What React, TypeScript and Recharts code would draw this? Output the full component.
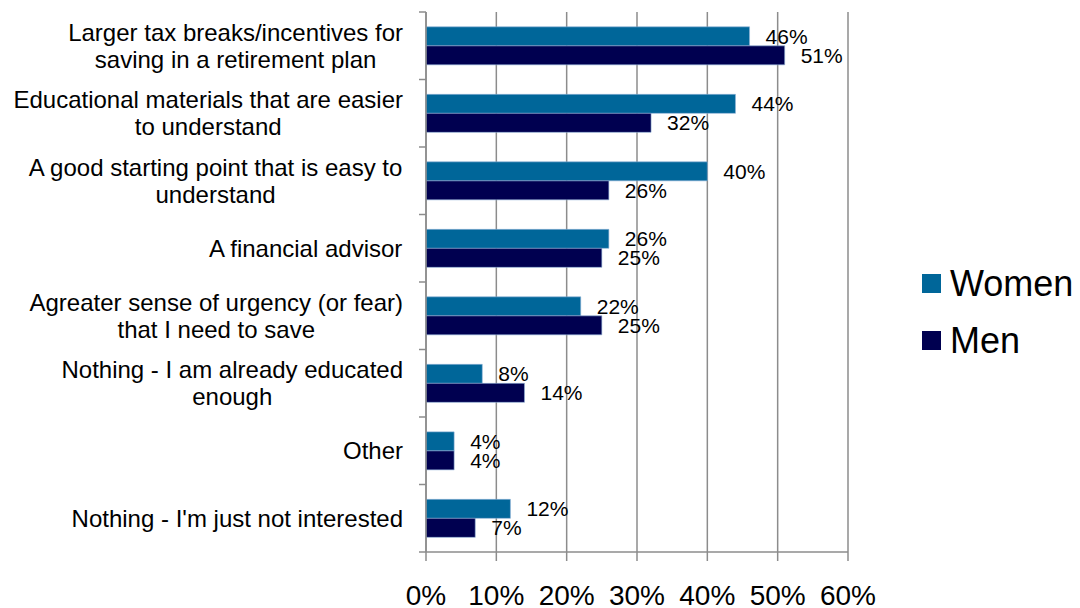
import React from 'react';
import { BarChart, Bar, XAxis, YAxis, CartesianGrid, LabelList } from 'recharts';

const CATEGORIES: string[] = [
  'Larger tax breaks/incentives for\nsaving in a retirement plan',
  'Educational materials that are easier\nto understand',
  'A good starting point that is easy to\nunderstand',
  'A financial advisor',
  'Agreater sense of urgency (or fear)\nthat I need to save',
  'Nothing - I am already educated\nenough',
  'Other',
  "Nothing - I'm just not interested",
];

const WOMEN: number[] = [46, 44, 40, 26, 22, 8, 4, 12];
const MEN: number[] = [51, 32, 26, 25, 25, 14, 4, 7];

const SERIES_NAMES: string[] = ['Women', 'Men'];
const SERIES_COLORS: string[] = ['#006699', '#000050'];

const X_TICKS: number[] = [0, 10, 20, 30, 40, 50, 60];

const data = CATEGORIES.map((name, i) => ({ name, Women: WOMEN[i], Men: MEN[i] }));

const FONT = '"Liberation Sans", Arial, Helvetica, sans-serif';
const GRID = '#8c8c8c';
const TICK_SIZE = 7;
const TICK_MARGIN = 16;
const CAT_FONT_SIZE = 24;
const LINE_HEIGHT = 27;

let ctx: CanvasRenderingContext2D | null = null;
function measure(text: string): number {
  if (!ctx) {
    const c = document.createElement('canvas');
    ctx = c.getContext('2d');
  }
  if (!ctx) return text.length * CAT_FONT_SIZE * 0.5;
  ctx.font = `${CAT_FONT_SIZE}px "Liberation Sans"`;
  return ctx.measureText(text).width;
}

function CategoryTick(props: any) {
  const { x, y, payload, index, visibleTicksCount, height } = props;
  const half =
    payload && typeof payload.offset === 'number' && payload.offset > 0
      ? payload.offset
      : (height || 540) / CATEGORIES.length / 2;
  const axisX = x + TICK_SIZE + TICK_MARGIN;
  const lines = String(payload.value).split('\n');
  const maxW = Math.max(...lines.map(measure));
  const cx = x - maxW / 2;
  const n = lines.length;
  return (
    <g>
      <line x1={axisX - TICK_SIZE} x2={axisX} y1={y - half} y2={y - half} stroke={GRID} strokeWidth={1.5} />
      {index === visibleTicksCount - 1 && (
        <line x1={axisX - TICK_SIZE} x2={axisX} y1={y + half} y2={y + half} stroke={GRID} strokeWidth={1.5} />
      )}
      <text
        x={cx}
        y={y}
        textAnchor="middle"
        fontSize={CAT_FONT_SIZE}
        fontFamily={FONT}
        fill="#000"
      >
        {lines.map((ln, i) => (
          <tspan key={i} x={cx} y={y + (i - (n - 1) / 2) * LINE_HEIGHT} dy="0.35em">
            {ln}
          </tspan>
        ))}
      </text>
    </g>
  );
}

export default function App() {
  return (
    <div
      style={{
        position: 'absolute',
        left: 0,
        top: 0,
        width: 1080,
        height: 608,
        background: '#fff',
        fontFamily: FONT,
      }}
    >
      <BarChart
        width={1080}
        height={608}
        data={data}
        layout="vertical"
        margin={{ top: 12, right: 232, bottom: 0, left: 0 }}
        barCategoryGap="22%"
        barGap={0}
      >
        <CartesianGrid horizontal={false} stroke={GRID} strokeWidth={1.5} />
        <XAxis
          type="number"
          domain={[0, 60]}
          ticks={X_TICKS}
          interval={0}
          height={56}
          tickSize={9}
          tickMargin={24}
          tickFormatter={(v: number) => `${v}%`}
          stroke={GRID}
          strokeWidth={1.5}
          tick={{ fontSize: 28, fill: '#000', fontFamily: FONT }}
        />
        <YAxis
          type="category"
          dataKey="name"
          width={426}
          interval={0}
          tickSize={TICK_SIZE}
          tickMargin={TICK_MARGIN}
          tickLine={false}
          stroke={GRID}
          strokeWidth={1.5}
          tick={<CategoryTick />}
        />
        {SERIES_NAMES.map((s, i) => (
          <Bar
            key={s}
            dataKey={s}
            fill={SERIES_COLORS[i]}
            stroke="#8fb2d6"
            strokeWidth={0.6}
            isAnimationActive={false}
          >
            <LabelList
              dataKey={s}
              position="right"
              offset={16}
              formatter={(v: any) => `${v}%`}
              style={{ fontSize: 21, fill: '#000', fontFamily: FONT }}
            />
          </Bar>
        ))}
      </BarChart>
      <div style={{ position: 'absolute', left: 922, top: 255, display: 'flex', flexDirection: 'column' }}>
        {SERIES_NAMES.map((s, i) => (
          <div key={s} style={{ display: 'flex', alignItems: 'center', height: 57 }}>
            <div style={{ width: 19, height: 19, background: SERIES_COLORS[i], marginRight: 9 }} />
            <span style={{ fontSize: 36, color: '#000', lineHeight: '57px' }}>{s}</span>
          </div>
        ))}
      </div>
    </div>
  );
}
